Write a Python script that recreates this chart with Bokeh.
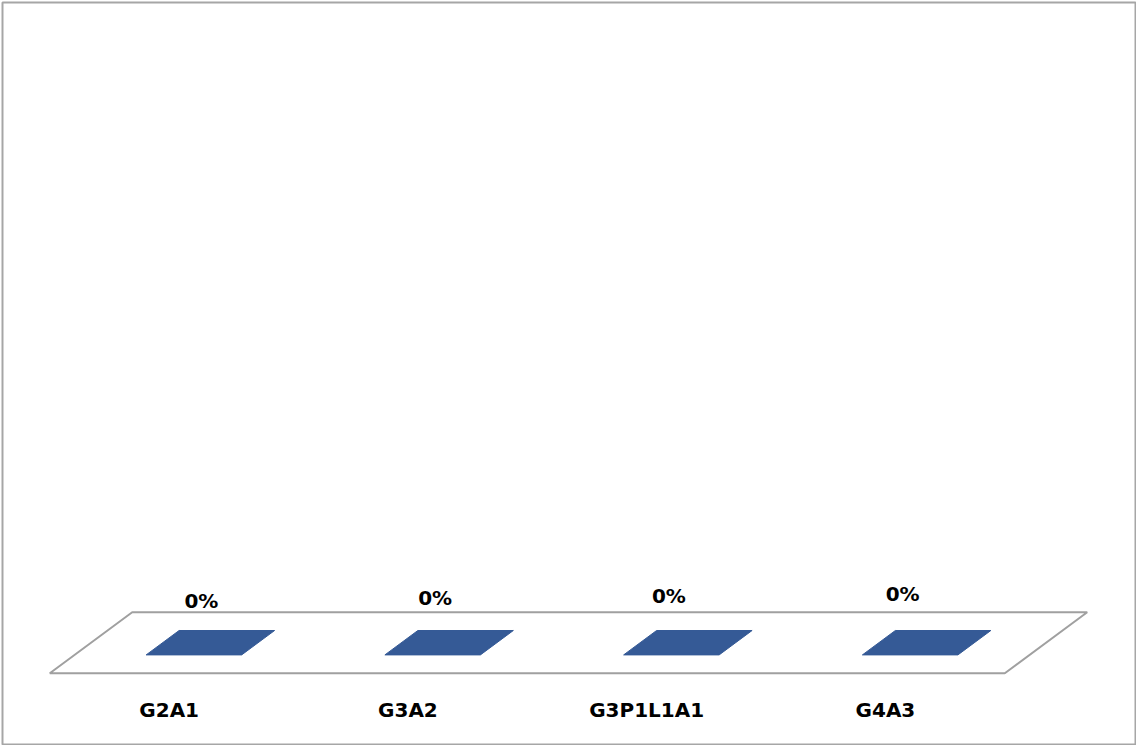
from bokeh.plotting import figure
from bokeh.models import Range1d
from bokeh.core.properties import value
from bokeh.embed import file_html
from bokeh.resources import INLINE

# Chart data
categories = ["G2A1", "G3A2", "G3P1L1A1", "G4A3"]
shares = [0.0, 0.0, 0.0, 0.0]
share_labels = [f"{v:.0%}" for v in shares]

W, H = 1136, 745

# Oblique 3-D projection of (category position, depth, value) onto the canvas
FLOOR_X0 = 49.3        # left end of the floor's front edge
CAT_UNIT = 238.75      # width of one category slot
SKEW_X = 82.4          # horizontal shift from front to back of the floor
FLOOR_Y0 = H - 672.7   # height of the floor's front edge
DEPTH_H = 61.0         # vertical rise from front to back of the floor
VALUE_H = 520.0        # height of 100 %

BAR_W = 0.4            # bar width in category slots
BAR_D0, BAR_D1 = 0.3, 0.7   # bar extent in depth


def project(cat_pos, depth, val=0.0):
    x = FLOOR_X0 + cat_pos * CAT_UNIT + depth * SKEW_X
    y = FLOOR_Y0 + depth * DEPTH_H + val * VALUE_H
    return x, y


p = figure(width=W, height=H, output_backend="svg", toolbar_location=None,
           x_range=Range1d(0, W), y_range=Range1d(0, H),
           min_border=0, outline_line_color=None)
p.axis.visible = False
p.grid.visible = False
p.background_fill_color = "white"

# Chart-area border
p.quad(left=[2], right=[W - 1], bottom=[1], top=[H - 2],
       fill_color=None, line_color="#A6A6A6", line_width=2)

# Floor
n = len(categories)
corners = [project(0, 0), project(n, 0), project(n, 1), project(0, 1)]
p.patch([c[0] for c in corners], [c[1] for c in corners],
        fill_color="white", line_color="#A0A0A0", line_width=2)

# Bars (top face only when the value is zero)
xs, ys = [], []
for i, v in enumerate(shares):
    left = i + 0.5 - BAR_W / 2
    right = i + 0.5 + BAR_W / 2
    pts = [project(left, BAR_D0, v), project(right, BAR_D0, v),
           project(right, BAR_D1, v), project(left, BAR_D1, v)]
    xs.append([q[0] for q in pts])
    ys.append([q[1] for q in pts])
p.patches(xs, ys, fill_color="#355A96", line_color="#355A96", line_width=1)

# Value labels above the bars (slight perspective drift to the right)
lab_x, lab_y = [], []
for i, v in enumerate(shares):
    x, y = project(i + 0.5, 0.3, v)
    lab_x.append(x + (1.5 - i) * 5)
    lab_y.append(H - 612 + i * 2.2 + v * VALUE_H)
p.text(x=lab_x, y=lab_y, text=share_labels, text_align="center",
       text_baseline="bottom", text_font=value("DejaVu Sans"),
       text_font_style="bold", text_font_size="20px", text_color="black")

# Category labels
cat_x = [project(i + 0.5, 0)[0] for i in range(n)]
cat_y = [H - 709] * n
p.text(x=cat_x, y=cat_y, text=categories, text_align="center",
       text_baseline="middle", text_font=value("DejaVu Sans"),
       text_font_style="bold", text_font_size="20px", text_color="black")

open("out.html", "w").write(file_html(p, INLINE))
